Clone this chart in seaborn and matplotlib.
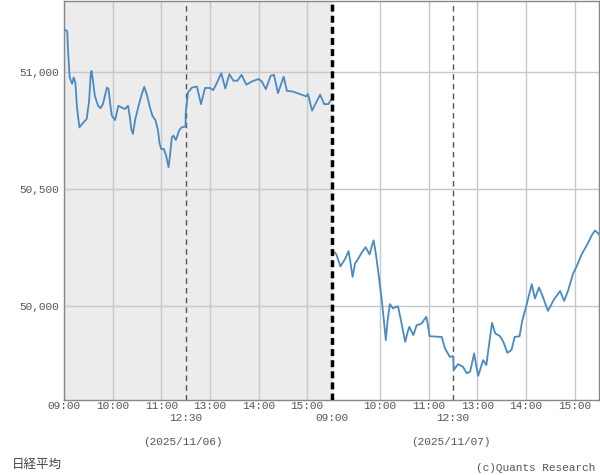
import numpy as np
import pandas as pd
import seaborn as sns
import matplotlib
matplotlib.use("Agg")
import matplotlib.pyplot as plt

sns.set_style("white")
plt.rcParams['font.family'] = ['Liberation Mono', 'Noto Sans CJK JP', 'DejaVu Sans']

# 2025/11/06
day1_time = ["09:00", "09:04", "09:05", "09:07", "09:10", "09:12", "09:14", "09:16", "09:19", "09:24",
             "09:28", "09:31", "09:33", "09:34", "09:36", "09:38", "09:42", "09:45", "09:48", "09:53",
             "09:55", "09:57", "09:59", "10:03", "10:07", "10:11", "10:15", "10:19", "10:21", "10:23",
             "10:25", "10:28", "10:32", "10:36", "10:39", "10:42", "10:46", "10:49", "10:53", "10:56",
             "10:58", "11:00", "11:03", "11:06", "11:09", "11:11", "11:13", "11:15", "11:18", "11:22",
             "11:25", "11:29", "11:30",
             "12:30", "12:33", "12:38", "12:44", "12:49", "12:54", "13:00", "13:04", "13:08", "13:14",
             "13:19", "13:24", "13:29", "13:34", "13:39", "13:45", "13:52", "14:00", "14:04", "14:09",
             "14:15", "14:19", "14:24", "14:31", "14:35", "14:43", "14:51", "14:59", "15:01", "15:06",
             "15:11", "15:16", "15:21", "15:26", "15:30"]
day1_value = [51180, 51174, 51089, 50976, 50949, 50976, 50954, 50848, 50763, 50784,
              50799, 50877, 50991, 51004, 50954, 50898, 50855, 50845, 50862, 50933,
              50926, 50862, 50813, 50794, 50855, 50848, 50841, 50855, 50813, 50756,
              50735, 50799, 50855, 50905, 50936, 50905, 50848, 50813, 50792, 50749,
              50692, 50671, 50671, 50643, 50593, 50650, 50720, 50728, 50709, 50749,
              50763, 50766, 50766,
              50820, 50912, 50933, 50937, 50862, 50931, 50931, 50922, 50948, 50994,
              50929, 50990, 50962, 50962, 50987, 50945, 50959, 50969, 50959, 50926,
              50983, 50987, 50909, 50979, 50919, 50915, 50905, 50895, 50905, 50834,
              50869, 50902, 50862, 50862, 50884]

# 2025/11/07
day2_time = ["09:04", "09:06", "09:11", "09:17", "09:21", "09:23", "09:26", "09:29", "09:33", "09:37",
             "09:42", "09:47", "09:50", "09:52", "09:55", "09:59", "10:02", "10:05", "10:07", "10:09",
             "10:12", "10:16", "10:18", "10:22", "10:25", "10:28", "10:31", "10:34", "10:36", "10:41",
             "10:45", "10:51", "10:57", "10:59", "11:01", "11:16", "11:20", "11:26", "11:30",
             "12:31", "12:36", "12:42", "12:47", "12:51", "12:56", "12:58", "13:01", "13:07", "13:11",
             "13:18", "13:22", "13:28", "13:32", "13:37", "13:42", "13:46", "13:52", "13:55", "14:01",
             "14:07", "14:11", "14:16", "14:20", "14:27", "14:34", "14:42", "14:47", "14:52", "14:58",
             "15:02", "15:09", "15:15", "15:21", "15:25", "15:29", "15:30"]
day2_value = [50230, 50221, 50170, 50203, 50235, 50196, 50125, 50182, 50203, 50227,
              50252, 50221, 50260, 50281, 50217, 50111, 50026, 49926, 49855, 49933,
              50009, 49990, 49995, 50000, 49952, 49898, 49848, 49891, 49912, 49877,
              49919, 49926, 49955, 49919, 49872, 49869, 49820, 49784, 49787,
              49728, 49753, 49742, 49714, 49721, 49799, 49756, 49703, 49770, 49749,
              49929, 49884, 49872, 49848, 49801, 49813, 49869, 49872, 49933, 50011,
              50094, 50033, 50080, 50047, 49980, 50026, 50065, 50023, 50068, 50139,
              50167, 50224, 50260, 50302, 50323, 50311, 50305]

dates = ["(2025/11/06)", "(2025/11/07)"]
hour_labels = ["10:00", "11:00", "13:00", "14:00", "15:00"]
y_ticks = [50000, 50500, 51000]


def session_minute(t):
    # minutes of trading time since 09:00, lunch break removed
    h, m = map(int, t.split(":"))
    mins = h * 60 + m
    if mins <= 11 * 60 + 30:
        return mins - 9 * 60
    return mins - (12 * 60 + 30) + 150


DAY_LEN = 330
frames = []
for i, (tt, vv) in enumerate([(day1_time, day1_value), (day2_time, day2_value)]):
    frames.append(pd.DataFrame({
        "x": [session_minute(t) + i * DAY_LEN for t in tt],
        "value": vv,
        "day": dates[i],
    }))
df = pd.concat(frames, ignore_index=True)

fig = plt.figure(figsize=(6, 4.75), dpi=100)
ax = fig.add_axes([64 / 600, 75 / 475, 535 / 600, 399 / 475])

ax.axvspan(0, DAY_LEN, color="#ececec", zorder=0)

sns.lineplot(data=df, x="x", y="value", hue="day", palette=["#4a8ac2", "#4a8ac2"],
             estimator=None, sort=False, legend=False,
             linewidth=1.3, ax=ax, zorder=3)

ax.set_xlim(0, 2 * DAY_LEN)
ax.set_ylim(49600, 51302)

# ticks: upper row (hours) and lower row (12:30 / day start)
major_pos, major_lab = [0], ["09:00"]
minor_pos, minor_lab = [150], ["12:30"]
for d in range(2):
    for lab in hour_labels:
        major_pos.append(session_minute(lab) + d * DAY_LEN)
        major_lab.append(lab)
minor_pos += [DAY_LEN, DAY_LEN + 150]
minor_lab += ["09:00", "12:30"]

ax.set_xticks(major_pos)
ax.set_xticklabels(major_lab)
ax.set_xticks(minor_pos, minor=True)
ax.set_xticklabels(minor_lab, minor=True)
ax.set_yticks(y_ticks)
ax.set_yticklabels([f"{v:,}" for v in y_ticks])

ax.tick_params(axis="x", which="major", length=0, pad=1, labelsize=8, labelcolor="#555555")
ax.tick_params(axis="x", which="minor", length=0, pad=9.5, labelsize=8, labelcolor="#555555")
ax.tick_params(axis="y", length=0, pad=3.5, labelsize=8, labelcolor="#555555")

ax.grid(True, which="major", color="#c8c8c8", linewidth=1)
ax.set_axisbelow(True)

for d in range(2):
    ax.axvline(150 + d * DAY_LEN, color="#555555", linewidth=1, linestyle=(0, (4, 3)), zorder=2)
ax.axvline(DAY_LEN, color="black", linewidth=2.5, linestyle=(0, (2, 1.2)), zorder=4)

for s in ax.spines.values():
    s.set_color("#888888")
    s.set_linewidth(1)

ax.set_xlabel("")
ax.set_ylabel("")

for d in range(2):
    ax.text(147 + d * DAY_LEN, -0.105, dates[d], transform=ax.get_xaxis_transform(),
            ha="center", va="center", fontsize=8, color="#555555")

fig.text(0.02, 0.021, "日経平均", fontsize=9, color="#444444", va="center", ha="left")
fig.text(0.992, 0.015, "(c)Quants Research", fontsize=8, color="#555555", va="center", ha="right")

fig.savefig("out.png", dpi=100)
